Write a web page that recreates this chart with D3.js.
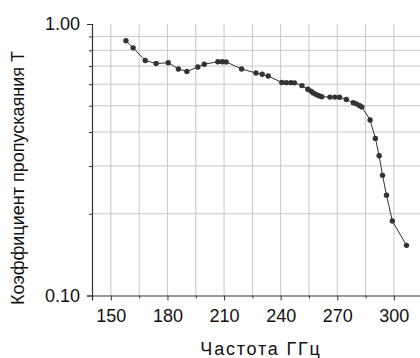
<!DOCTYPE html>
<html><head><meta charset="utf-8">
<script src="https://cdn.jsdelivr.net/npm/d3@7"></script>
<style>body{margin:0;background:#fff;} svg{display:block;}</style>
</head><body>
<script>
const freq = [158.0,161.8,168.2,174.0,180.4,185.8,190.3,196.1,199.5,206.7,209.0,211.1,219.3,226.9,230.2,233.4,240.6,243.0,245.4,247.3,251.3,254.4,256.0,257.3,258.8,260.3,261.8,266.1,268.7,271.2,274.8,278.5,280.1,281.7,283.0,287.4,290.2,292.2,294.0,296.1,299.2,306.7];
const trans = [0.868,0.817,0.734,0.715,0.720,0.683,0.669,0.694,0.711,0.726,0.726,0.725,0.683,0.660,0.653,0.643,0.609,0.608,0.608,0.607,0.593,0.575,0.566,0.557,0.550,0.544,0.540,0.538,0.538,0.537,0.527,0.513,0.508,0.501,0.495,0.443,0.379,0.327,0.277,0.234,0.188,0.153];
const xMajor = [150,180,210,240,270,300];
const xMinor = [165,195,225,255,285,315];
const yMajor = [0.1,1.0];
const yMinor = [0.2,0.3,0.4,0.5,0.6,0.7,0.8,0.9];
const xTitle = "Частота ГГц";
const yTitle = "Коэффициент пропускаяния T";

const W=420,H=358;
const svg=d3.select("body").append("svg").attr("width",W).attr("height",H)
  .style("font-family","'Liberation Sans', Arial, sans-serif");
const x=d3.scaleLinear().domain([140,320]).range([92,431.6]);
const y=d3.scaleLog().domain([0.1,1]).range([295.5,24]);
const gridC="#c8c8c8", axC="#333";

// grid
svg.append("g").selectAll("line").data(xMajor.concat(xMinor)).join("line")
  .attr("x1",d=>x(d)).attr("x2",d=>x(d)).attr("y1",y(1)).attr("y2",y(0.1))
  .attr("stroke",gridC).attr("stroke-width",1);
svg.append("g").selectAll("line").data(yMinor).join("line")
  .attr("x1",x(140)).attr("x2",W).attr("y1",d=>y(d)).attr("y2",d=>y(d))
  .attr("stroke",gridC).attr("stroke-width",1);

// x axis
svg.append("g").attr("transform",`translate(0,${y(0.1)})`)
  .call(d3.axisBottom(x).tickValues(xMajor).tickFormat(d3.format("d")).tickSize(5).tickPadding(9));
svg.append("g").attr("transform",`translate(0,${y(0.1)})`)
  .call(d3.axisBottom(x).tickValues(xMinor).tickFormat("").tickSize(3)).select(".domain").remove();
// y axis
svg.append("g").attr("transform",`translate(${x(140)},0)`)
  .call(d3.axisLeft(y).tickValues(yMajor).tickFormat(d3.format(".2f")).tickSize(5).tickPadding(7));
svg.append("g").attr("transform",`translate(${x(140)},0)`)
  .call(d3.axisLeft(y).tickValues(yMinor).tickFormat("").tickSize(3)).select(".domain").remove();
svg.selectAll(".domain").attr("stroke",axC).attr("stroke-width",1.2);
svg.selectAll(".tick line").attr("stroke",axC);
svg.selectAll(".tick text").attr("fill","#111").style("font-size","18px").style("font-family","'Liberation Sans', Arial, sans-serif");

// line + points
svg.append("path").datum(freq.map((f,i)=>[f,trans[i]]))
  .attr("d",d3.line().x(d=>x(d[0])).y(d=>y(d[1])))
  .attr("fill","none").attr("stroke","#333").attr("stroke-width",1);
svg.append("g").selectAll("circle").data(freq.map((f,i)=>[f,trans[i]])).join("circle")
  .attr("cx",d=>x(d[0])).attr("cy",d=>y(d[1])).attr("r",2.7).attr("fill","#333");

// titles
svg.append("text").attr("x",261).attr("y",355).attr("text-anchor","middle")
  .style("font-size","18px").style("letter-spacing","1.8px").attr("fill","#111").text(xTitle);
svg.append("text").attr("transform","translate(24,178) rotate(-90)").attr("text-anchor","middle")
  .style("font-size","18px").attr("fill","#111").text(yTitle);
</script>
</body></html>
